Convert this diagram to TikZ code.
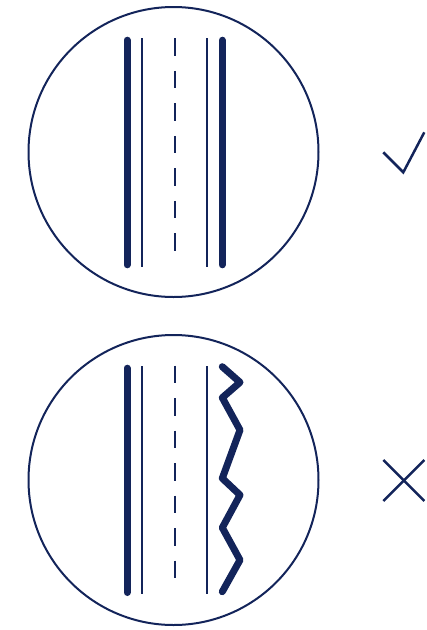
\documentclass[tikz,border=0pt]{standalone}
\usepackage{tikz}
\definecolor{Navy}{HTML}{13245A}

\begin{document}
\begin{tikzpicture}[
  x=1pt, y=-1pt,
  lens/.style={circle, draw=Navy, line width=2pt, minimum size=290pt, inner sep=0pt, outer sep=0pt},
  curb/.style={draw=Navy, line width=7pt, line cap=round, line join=round},
  edgeline/.style={draw=Navy, line width=2.3pt},
  midline/.style={draw=Navy, line width=2.3pt, dash pattern=on 17.5pt off 15pt},
  verdict/.style={draw=Navy, line width=2.5pt, line join=miter}
]
\useasboundingbox (0,0) rectangle (427,630);

% good road
\node[lens] (good) at (173.5,152) {};
\draw[curb] (127,40.2) -- (127,264.8);
\draw[edgeline] (142.3,38.3) -- (142.3,266.7);
\draw[midline] (175,38.3) -- (175,251);
\draw[edgeline] (207.3,38.3) -- (207.3,266.7);
\draw[curb] (222.3,40.2) -- (222.3,264.8);
\draw[verdict] (383.3,152.3) -- (403.3,172.3) -- (424.3,132.3);

% bad road
\node[lens] (bad) at (173.5,480) {};
\draw[curb] (127,368.2) -- (127,592.5);
\draw[edgeline] (142.3,366.3) -- (142.3,594);
\draw[midline] (175,365.5) -- (175,579);
\draw[edgeline] (207.3,366.3) -- (207.3,594);
\draw[curb] (222.3,366.7) -- (240,382.3) -- (222.3,397.7) -- (240,430)
  -- (222.3,478.3) -- (240,495) -- (222.3,527.7) -- (240,560) -- (222.3,591.7);
\draw[verdict] (383.3,460) -- (424.3,501);
\draw[verdict] (383.3,501) -- (424.3,460);
\end{tikzpicture}
\end{document}
